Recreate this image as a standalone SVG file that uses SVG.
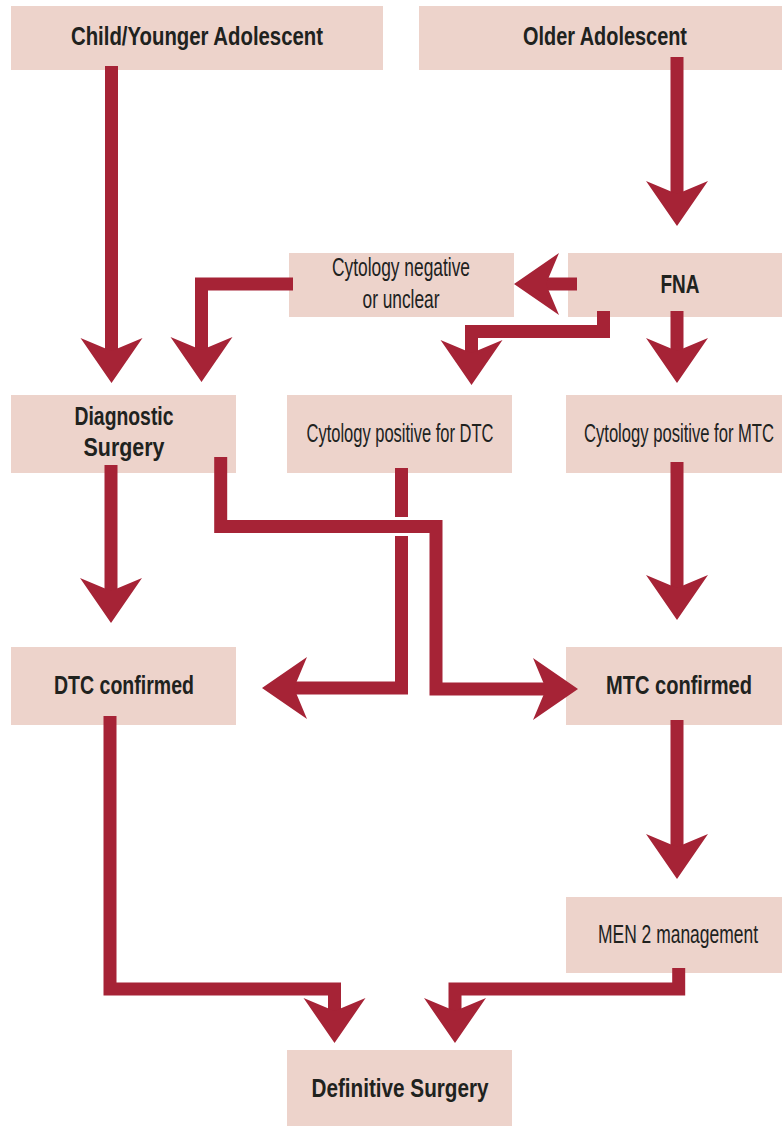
<svg xmlns="http://www.w3.org/2000/svg" xmlns:xlink="http://www.w3.org/1999/xlink" width="782" height="1126" viewBox="0 0 782 1126">
<style>
.box{fill:#EDD3CB}
.t{font-family:"Liberation Sans",Arial,sans-serif;font-size:26px;fill:#20221E;text-anchor:middle}
.b{font-weight:bold}
.c{fill:none;stroke:#A62336;stroke-width:13;stroke-linejoin:miter;stroke-linecap:butt}
.ah{fill:#A62336}
</style>
<defs>
<path id="ah" d="M0,0 L-31,-45 L0,-32 L31,-45 Z"/>
</defs>
<rect width="782" height="1126" fill="#FFFFFF"/>
<g id="n-child"><rect class="box" x="11" y="6" width="372" height="64"/><text class="t b" x="197" y="45" textLength="252" lengthAdjust="spacingAndGlyphs">Child/Younger Adolescent</text></g>
<g id="n-older"><rect class="box" x="419" y="6" width="363" height="64"/><text class="t b" x="605" y="45" textLength="164" lengthAdjust="spacingAndGlyphs">Older Adolescent</text></g>
<g id="n-neg"><rect class="box" x="289" y="253" width="225" height="64"/><text class="t" x="401" y="276" textLength="138" lengthAdjust="spacingAndGlyphs">Cytology negative</text><text class="t" x="401" y="308" textLength="77" lengthAdjust="spacingAndGlyphs">or unclear</text></g>
<g id="n-fna"><rect class="box" x="568" y="253" width="214" height="64"/><text class="t b" x="680" y="293" textLength="39" lengthAdjust="spacingAndGlyphs">FNA</text></g>
<g id="n-diag"><rect class="box" x="11" y="395" width="225" height="78"/><text class="t b" x="124" y="425" textLength="99" lengthAdjust="spacingAndGlyphs">Diagnostic</text><text class="t b" x="124" y="456" textLength="81" lengthAdjust="spacingAndGlyphs">Surgery</text></g>
<g id="n-dtcpos"><rect class="box" x="287" y="395" width="225" height="78"/><text class="t" x="400" y="442" textLength="187" lengthAdjust="spacingAndGlyphs">Cytology positive for DTC</text></g>
<g id="n-mtcpos"><rect class="box" x="566" y="395" width="216" height="78"/><text class="t" x="679" y="442" textLength="190" lengthAdjust="spacingAndGlyphs">Cytology positive for MTC</text></g>
<g id="n-dtcconf"><rect class="box" x="11" y="647" width="225" height="78"/><text class="t b" x="124" y="694" textLength="140" lengthAdjust="spacingAndGlyphs">DTC confirmed</text></g>
<g id="n-mtcconf"><rect class="box" x="566" y="647" width="216" height="78"/><text class="t b" x="679" y="694" textLength="146" lengthAdjust="spacingAndGlyphs">MTC confirmed</text></g>
<g id="n-men"><rect class="box" x="566" y="897" width="216" height="76"/><text class="t" x="678" y="943" textLength="160" lengthAdjust="spacingAndGlyphs">MEN 2 management</text></g>
<g id="n-def"><rect class="box" x="287" y="1050" width="225" height="76"/><text class="t b" x="400" y="1097" textLength="177" lengthAdjust="spacingAndGlyphs">Definitive Surgery</text></g>
<g id="connectors">
<polyline class="c" points="111.5,66 111.5,355"/>
<use class="ah" xlink:href="#ah" href="#ah" transform="translate(111.5,383)"/>
<polyline class="c" points="677,57 677,200"/>
<use class="ah" xlink:href="#ah" href="#ah" transform="translate(677,226)"/>
<polyline class="c" points="577,284 545,284"/>
<use class="ah" xlink:href="#ah" href="#ah" transform="translate(514,284) rotate(90)"/>
<polyline class="c" points="603.5,311 603.5,331.5 471.5,331.5 471.5,358"/>
<use class="ah" xlink:href="#ah" href="#ah" transform="translate(471.5,385)"/>
<polyline class="c" points="677,311 677,355"/>
<use class="ah" xlink:href="#ah" href="#ah" transform="translate(677,383)"/>
<polyline class="c" points="293,284 201.5,284 201.5,355"/>
<use class="ah" xlink:href="#ah" href="#ah" transform="translate(201.5,382)"/>
<polyline class="c" points="111,465 111,595"/>
<use class="ah" xlink:href="#ah" href="#ah" transform="translate(111,623)"/>
<polyline class="c" points="677,462 677,592"/>
<use class="ah" xlink:href="#ah" href="#ah" transform="translate(677,620)"/>
<polyline class="c" points="401.5,468 401.5,688 290,688"/>
<use class="ah" xlink:href="#ah" href="#ah" transform="translate(262,688) rotate(90)"/>
<rect x="393" y="517" width="17" height="19" fill="#FFFFFF"/>
<polyline class="c" points="220.7,457 220.7,526.5 436,526.5 436,689 550,689"/>
<use class="ah" xlink:href="#ah" href="#ah" transform="translate(578,689) rotate(-90)"/>
<polyline class="c" points="677,720 677,852"/>
<use class="ah" xlink:href="#ah" href="#ah" transform="translate(677,879)"/>
<polyline class="c" points="110,716 110,989 334.5,989 334.5,1015"/>
<use class="ah" xlink:href="#ah" href="#ah" transform="translate(334.5,1043)"/>
<polyline class="c" points="678.7,968 678.7,989 455,989 455,1015"/>
<use class="ah" xlink:href="#ah" href="#ah" transform="translate(455,1043)"/>
</g>
</svg>
